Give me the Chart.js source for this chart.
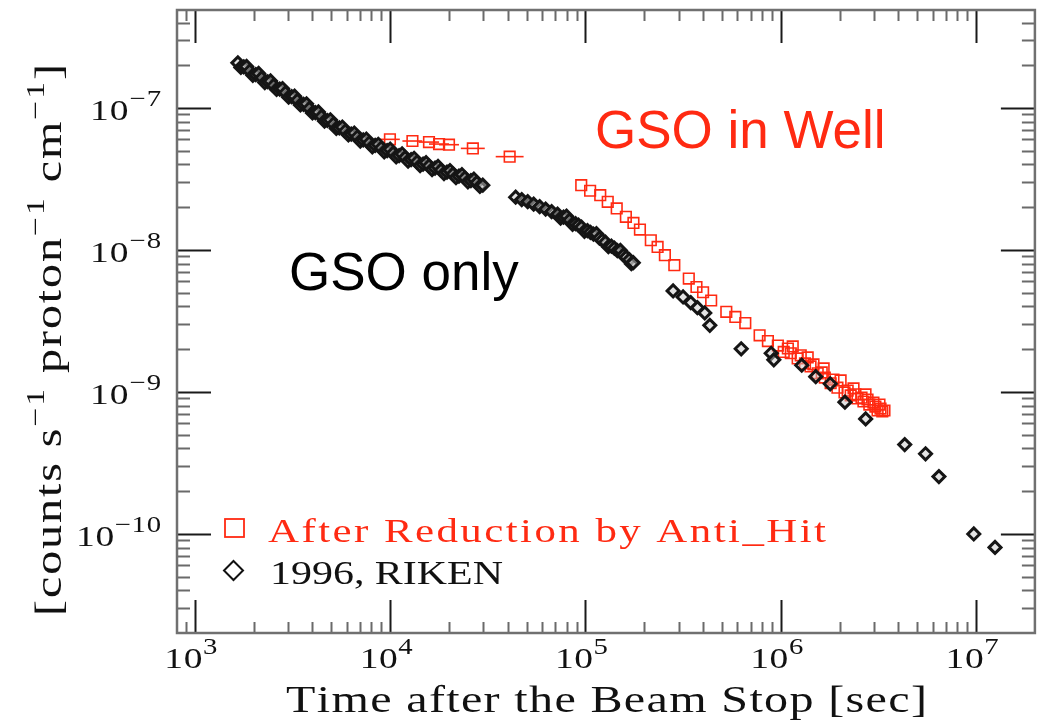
<!DOCTYPE html>
<html>
<head>
<meta charset="utf-8">
<script src="https://cdn.jsdelivr.net/npm/chart.js@4.4.1/dist/chart.umd.min.js"></script>
<style>
  html, body { margin: 0; padding: 0; background: #ffffff; }
  canvas { display: block; }
</style>
</head>
<body>
<canvas id="chart" width="1044" height="723"></canvas>
<script>
// ---- Data: residual count rate vs. time after the beam stop ----

// GSO in well, after reduction by anti-coincidence hits
const redTime = [
  9.97e3, 1.30e4, 1.58e4, 1.78e4, 2.0e4, 2.65e4, 4.09e4,
  9.51e4, 1.056e5, 1.19e5, 1.30e5, 1.445e5, 1.61e5, 1.76e5, 1.90e5, 2.16e5, 2.34e5,
  2.55e5, 2.85e5, 3.38e5, 3.70e5, 4.00e5, 4.40e5, 5.26e5, 5.85e5, 6.58e5, 7.79e5,
  8.59e5, 9.66e5, 1.035e6, 1.087e6, 1.125e6, 1.151e6, 1.22e6, 1.265e6, 1.33e6, 1.373e6,
  1.42e6, 1.47e6, 1.545e6, 1.62e6, 1.657e6, 1.68e6, 1.80e6, 1.86e6, 1.95e6, 2.024e6,
  2.12e6, 2.20e6, 2.28e6, 2.357e6, 2.41e6, 2.47e6, 2.59e6, 2.65e6, 2.715e6, 2.78e6,
  2.84e6, 2.98e6, 3.05e6, 3.13e6, 3.20e6, 3.24e6, 3.31e6, 3.394e6
];
const redRate = [
  6.01e-8, 5.85e-8, 5.75e-8, 5.57e-8, 5.51e-8, 5.19e-8, 4.54e-8,
  2.86e-8, 2.61e-8, 2.43e-8, 2.18e-8, 1.96e-8, 1.71e-8, 1.55e-8, 1.39e-8, 1.17e-8, 1.05e-8,
  9.18e-9, 7.80e-9, 6.28e-9, 5.48e-9, 5.03e-9, 4.40e-9, 3.66e-9, 3.37e-9, 3.05e-9, 2.50e-9,
  2.28e-9, 2.12e-9, 1.91e-9, 2.02e-9, 1.87e-9, 2.09e-9, 1.72e-9, 1.81e-9, 1.585e-9, 1.749e-9,
  1.51e-9, 1.56e-9, 1.35e-9, 1.37e-9, 1.463e-9, 1.26e-9, 1.15e-9, 1.22e-9, 1.07e-9, 1.203e-9,
  9.9e-10, 1.02e-9, 9.44e-10, 1.057e-9, 9.6e-10, 8.98e-10, 9.1e-10, 8.55e-10, 9.59e-10, 8.83e-10,
  8.14e-10, 8.41e-10, 7.88e-10, 7.40e-10, 8.14e-10, 7.63e-10, 7.28e-10, 7.39e-10
];
// time bins of the first (integrated) points: lower / upper edges
const redTimeLo = [8.86e3, 1.155e4, 1.40e4, 1.58e4, 1.78e4, 2.30e4, 3.47e4];
const redTimeHi = [1.12e4, 1.46e4, 1.78e4, 2.00e4, 2.25e4, 3.05e4, 4.82e4];

// GSO only, 1996 RIKEN measurement
const blackTime = [
  // first run
  1.66e3, 1.72e3, 1.78e3, 1.84e3, 1.91e3, 1.98e3, 2.05e3, 2.12e3, 2.20e3, 2.28e3,
  2.36e3, 2.44e3, 2.53e3, 2.62e3, 2.72e3, 2.81e3, 2.91e3, 3.02e3, 3.13e3, 3.24e3,
  3.35e3, 3.47e3, 3.60e3, 3.73e3, 3.86e3, 4.00e3, 4.14e3, 4.29e3, 4.45e3, 4.61e3,
  4.77e3, 4.94e3, 5.12e3, 5.30e3, 5.49e3, 5.69e3, 5.89e3, 6.11e3, 6.32e3, 6.55e3,
  6.79e3, 7.03e3, 7.28e3, 7.55e3, 7.81e3, 8.10e3, 8.38e3, 8.69e3, 9.00e3, 9.32e3,
  9.65e3, 1.0e4, 1.036e4, 1.073e4, 1.111e4, 1.151e4, 1.193e4, 1.235e4, 1.28e4, 1.326e4,
  1.373e4, 1.423e4, 1.474e4, 1.527e4, 1.581e4, 1.638e4, 1.697e4, 1.758e4, 1.821e4, 1.886e4,
  1.954e4, 2.024e4, 2.097e4, 2.172e4, 2.25e4, 2.33e4, 2.414e4, 2.50e4, 2.59e4, 2.683e4,
  2.78e4, 2.879e4, 2.98e4,
  // second run
  4.39e4, 4.716e4, 5.06e4, 5.429e4, 5.826e4, 6.251e4, 6.707e4, 7.196e4, 7.457e4, 7.723e4,
  8.0e4, 8.287e4, 8.585e4, 8.892e4, 9.21e4, 9.541e4, 9.88e4, 1.024e5, 1.06e5, 1.099e5,
  1.138e5, 1.179e5, 1.221e5, 1.265e5, 1.31e5, 1.357e5, 1.406e5, 1.456e5, 1.509e5, 1.563e5,
  1.619e5, 1.677e5, 1.717e5, 1.757e5,
  // later measurements
  2.81e5, 3.16e5, 3.46e5, 3.74e5, 4.08e5, 4.33e5, 6.27e5, 8.93e5, 9.21e5, 1.28e6,
  1.51e6, 1.79e6, 2.13e6, 2.72e6, 4.31e6, 5.51e6, 6.45e6, 9.73e6, 1.25e7
];
const blackRate = [
  2.08e-7, 1.93e-7, 1.95e-7, 1.96e-7, 1.82e-7, 1.70e-7, 1.72e-7, 1.75e-7, 1.63e-7, 1.51e-7,
  1.53e-7, 1.55e-7, 1.44e-7, 1.35e-7, 1.36e-7, 1.37e-7, 1.28e-7, 1.19e-7, 1.20e-7, 1.21e-7,
  1.13e-7, 1.05e-7, 1.06e-7, 1.07e-7, 9.92e-8, 9.22e-8, 9.29e-8, 9.37e-8, 8.71e-8, 8.09e-8,
  8.16e-8, 8.26e-8, 7.71e-8, 7.17e-8, 7.23e-8, 7.34e-8, 6.88e-8, 6.45e-8, 6.55e-8, 6.66e-8,
  6.24e-8, 5.85e-8, 5.95e-8, 6.04e-8, 5.66e-8, 5.33e-8, 5.44e-8, 5.55e-8, 5.22e-8, 4.91e-8,
  5.01e-8, 5.12e-8, 4.81e-8, 4.53e-8, 4.62e-8, 4.74e-8, 4.47e-8, 4.23e-8, 4.33e-8, 4.42e-8,
  4.16e-8, 3.93e-8, 4.02e-8, 4.12e-8, 3.90e-8, 3.68e-8, 3.77e-8, 3.87e-8, 3.65e-8, 3.45e-8,
  3.53e-8, 3.62e-8, 3.42e-8, 3.23e-8, 3.31e-8, 3.39e-8, 3.21e-8, 3.02e-8, 3.08e-8, 3.15e-8,
  2.98e-8, 2.80e-8, 2.86e-8,
  2.35e-8, 2.261e-8, 2.188e-8, 2.101e-8, 2.018e-8, 1.938e-8, 1.861e-8, 1.786e-8, 1.674e-8, 1.701e-8,
  1.729e-8, 1.62e-8, 1.514e-8, 1.53e-8, 1.494e-8, 1.446e-8, 1.351e-8, 1.366e-8, 1.329e-8, 1.291e-8,
  1.301e-8, 1.209e-8, 1.17e-8, 1.133e-8, 1.053e-8, 1.062e-8, 1.028e-8, 9.87e-9, 9.92e-9, 9.18e-9,
  8.88e-9, 8.53e-9, 7.99e-9, 8.12e-9,
  5.14e-9, 4.66e-9, 4.25e-9, 3.92e-9, 3.60e-9, 2.94e-9, 2.01e-9, 1.87e-9, 1.68e-9, 1.54e-9,
  1.28e-9, 1.14e-9, 8.46e-10, 6.45e-10, 4.25e-10, 3.66e-10, 2.53e-10, 9.97e-11, 8.02e-11
];

// axis ranges and decade labels
const xRange = [810, 2e7];
const yRange = [2e-11, 4.9e-7];
const xDecades = [3, 4, 5, 6, 7];
const yDecades = [-7, -8, -9, -10];

const RED = '#ff2a12';
const SERIF = '"Liberation Serif", "DejaVu Serif", serif';
const SANS = '"Liberation Sans", Arial, sans-serif';

function toPoints(xs, ys) { return xs.map((v, i) => ({ x: v, y: ys[i] })); }

// Draw a run of [text, font, dy] pieces across a given width; glyphs are
// widened (up to `stretch`) and any remaining room goes between them.
function drawRun(ctx, pieces, x, y, width, align, stretch = 1.3) {
  const glyphs = [];
  pieces.forEach(([t, font, dy]) => {
    ctx.font = font;
    Array.from(t).forEach(c => glyphs.push({ c, font, dy, w: ctx.measureText(c).width }));
  });
  const natural = glyphs.reduce((s, g) => s + g.w, 0);
  const sx = Math.min(stretch, width / natural);
  const gap = glyphs.length > 1 ? (width - natural * sx) / (glyphs.length - 1) : 0;
  let cx = align === 'center' ? x - width / 2 : align === 'right' ? x - width : x;
  ctx.textAlign = 'left';
  ctx.textBaseline = 'alphabetic';
  glyphs.forEach(g => {
    ctx.font = g.font;
    ctx.save();
    ctx.translate(cx, y + g.dy);
    ctx.scale(sx, 1);
    ctx.fillText(g.c, 0, 0);
    ctx.restore();
    cx += g.w * sx + gap;
  });
}

// "10" with a raised exponent
function drawPower(ctx, exp, x, baseY, align) {
  const base = '30px ' + SERIF, sup = '23px ' + SERIF;
  const width = 38 + 3 + (exp.length === 1 ? 12 : exp.length === 2 ? 30 : 44);
  drawRun(ctx, [['10', base, 0], [exp, sup, -14]], x, baseY, width, align, 1.25);
}

function expText(e) { return e < 0 ? '\u2212' + (-e) : String(e); }

const framePlugin = {
  id: 'frame',
  beforeDatasetsDraw(chart) {
    // horizontal bars for the integrated time bins
    const { ctx, scales: { x, y } } = chart;
    ctx.save();
    ctx.strokeStyle = RED;
    ctx.lineWidth = 1.6;
    redTimeLo.forEach((lo, i) => {
      const py = y.getPixelForValue(redRate[i]);
      ctx.beginPath();
      ctx.moveTo(x.getPixelForValue(lo), py);
      ctx.lineTo(x.getPixelForValue(redTimeHi[i]), py);
      ctx.stroke();
    });
    ctx.restore();
  },
  afterDraw(chart) {
    const { ctx, chartArea: a, scales: { x, y } } = chart;
    ctx.save();
    ctx.lineCap = 'butt';

    // x ticks on bottom and top
    for (let e = 2; e <= 7; e++) {
      for (let m = 1; m <= 9; m++) {
        const v = m * Math.pow(10, e);
        if (v <= xRange[0] || v >= xRange[1]) continue;
        const px = Math.round(x.getPixelForValue(v)) + 0.5;
        const major = m === 1;
        const len = major ? 33 : 11;
        ctx.strokeStyle = major ? '#1a1a1a' : '#6a6a6a';
        ctx.lineWidth = 2;
        ctx.beginPath();
        ctx.moveTo(px, a.bottom); ctx.lineTo(px, a.bottom - len);
        ctx.moveTo(px, a.top); ctx.lineTo(px, a.top + len);
        ctx.stroke();
      }
    }
    // y ticks on left and right
    for (let e = -12; e <= -6; e++) {
      for (let m = 1; m <= 9; m++) {
        const v = m * Math.pow(10, e);
        if (v <= yRange[0] || v >= yRange[1]) continue;
        const py = Math.round(y.getPixelForValue(v)) + 0.5;
        const major = m === 1;
        const len = major ? 34 : 13;
        ctx.strokeStyle = major ? '#1a1a1a' : '#6a6a6a';
        ctx.lineWidth = 2;
        ctx.beginPath();
        ctx.moveTo(a.left, py); ctx.lineTo(a.left + len, py);
        ctx.moveTo(a.right, py); ctx.lineTo(a.right - len, py);
        ctx.stroke();
      }
    }
    // frame
    ctx.strokeStyle = '#707070';
    ctx.lineWidth = 2.5;
    ctx.strokeRect(a.left, a.top, a.right - a.left, a.bottom - a.top);

    // tick labels
    ctx.fillStyle = '#111';
    xDecades.forEach(e => drawPower(ctx, expText(e), x.getPixelForValue(Math.pow(10, e)) - 4, 668, 'center'));
    yDecades.forEach(e => drawPower(ctx, expText(e), 161, y.getPixelForValue(Math.pow(10, e)) + 12, 'right'));

    // x axis title
    drawRun(ctx, [['Time after the Beam Stop [sec]', '37px ' + SERIF, 0]], 286, 712, 641, 'left');

    // y axis title, rotated, with superscripts
    ctx.save();
    ctx.translate(61, 340);
    ctx.rotate(-Math.PI / 2);
    const fb = '37px ' + SERIF, fs = '26px ' + SERIF;
    drawRun(ctx, [
      ['[counts s', fb, 0], ['\u22121', fs, -17], [' proton', fb, 0], ['\u22121', fs, -17],
      [' cm', fb, 0], ['\u22121', fs, -17], [']', fb, 0]
    ], 0, 0, 552, 'center');
    ctx.restore();

    // legend
    const ds = chart.data.datasets;
    ctx.lineWidth = 1.8;
    ctx.strokeStyle = RED;
    ctx.strokeRect(225, 519, 19, 18);
    ctx.fillStyle = RED;
    drawRun(ctx, [[ds[0].label, '33px ' + SERIF, 0]], 268, 542, 558, 'left');
    ctx.strokeStyle = '#111';
    ctx.lineWidth = 2;
    ctx.beginPath();
    ctx.moveTo(233.5, 561); ctx.lineTo(243, 570.5); ctx.lineTo(233.5, 580); ctx.lineTo(224, 570.5); ctx.closePath();
    ctx.stroke();
    ctx.fillStyle = '#111';
    drawRun(ctx, [[ds[1].label, '33px ' + SERIF, 0]], 270, 584, 233, 'left');

    // annotations
    ctx.textAlign = 'left';
    ctx.font = '53px ' + SANS;
    ctx.fillStyle = RED;
    ctx.fillText('GSO in Well', 595, 148);
    ctx.fillStyle = '#000';
    ctx.fillText('GSO only', 289, 290);

    ctx.restore();
  }
};

new Chart(document.getElementById('chart'), {
  type: 'scatter',
  data: {
    datasets: [
      {
        label: 'After Reduction by Anti_Hit',
        data: toPoints(redTime, redRate),
        pointStyle: 'rect',
        pointRadius: 7.5,
        borderColor: RED,
        borderWidth: 1.6,
        backgroundColor: 'rgba(0,0,0,0)',
        showLine: false,
        order: 2
      },
      {
        label: '1996, RIKEN',
        data: toPoints(blackTime, blackRate),
        pointStyle: 'rectRot',
        pointRadius: 6,
        borderColor: '#151515',
        borderWidth: 3,
        backgroundColor: 'rgba(200,200,200,0.5)',
        showLine: false,
        order: 1
      }
    ]
  },
  options: {
    responsive: false,
    animation: false,
    events: [],
    layout: { padding: { left: 177, right: 8, top: 10, bottom: 90 } },
    plugins: { legend: { display: false }, tooltip: { enabled: false } },
    scales: {
      x: {
        type: 'logarithmic', min: xRange[0], max: xRange[1],
        grid: { display: false }, border: { display: false },
        ticks: { display: false },
        afterFit(s) { s.height = 0; }
      },
      y: {
        type: 'logarithmic', min: yRange[0], max: yRange[1],
        grid: { display: false }, border: { display: false },
        ticks: { display: false },
        afterFit(s) { s.width = 0; }
      }
    }
  },
  plugins: [framePlugin]
});
</script>
</body>
</html>
